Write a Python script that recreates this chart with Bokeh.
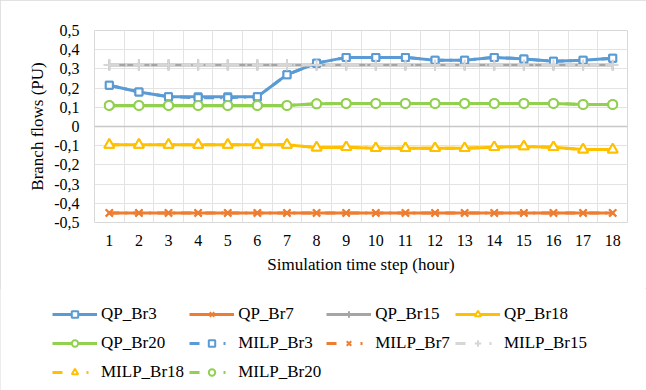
from bokeh.plotting import figure
from bokeh.layouts import column, row
from bokeh.models import (Range1d, FixedTicker, CustomJSTickFormatter, Legend, LegendItem, Span)
from bokeh.embed import file_html
from bokeh.resources import INLINE

steps = [1, 2, 3, 4, 5, 6, 7, 8, 9, 10, 11, 12, 13, 14, 15, 16, 17, 18]
step_labels = ["1", "2", "3", "4", "5", "6", "7", "8", "9", "10", "11", "12", "13", "14", "15", "16", "17", "18"]
y_ticks = [-0.5, -0.4, -0.3, -0.2, -0.1, 0.0, 0.1, 0.2, 0.3, 0.4, 0.5]

qp_br3 = [0.215, 0.18, 0.155, 0.155, 0.155, 0.155, 0.27, 0.33, 0.36, 0.36, 0.36, 0.345, 0.345, 0.36, 0.352, 0.34, 0.345, 0.355]
qp_br7 = [-0.45, -0.45, -0.45, -0.45, -0.45, -0.45, -0.45, -0.45, -0.45, -0.45, -0.45, -0.45, -0.45, -0.45, -0.45, -0.45, -0.45, -0.45]
qp_br15 = [0.32, 0.32, 0.32, 0.32, 0.32, 0.32, 0.32, 0.32, 0.32, 0.32, 0.32, 0.32, 0.32, 0.32, 0.32, 0.32, 0.32, 0.32]
qp_br18 = [-0.095, -0.095, -0.095, -0.095, -0.095, -0.095, -0.095, -0.11, -0.108, -0.113, -0.113, -0.113, -0.113, -0.108, -0.104, -0.108, -0.12, -0.12]
qp_br20 = [0.11, 0.11, 0.11, 0.11, 0.11, 0.11, 0.11, 0.118, 0.12, 0.12, 0.12, 0.12, 0.12, 0.12, 0.12, 0.12, 0.115, 0.115]

milp_br3 = [0.215, 0.18, 0.155, 0.15, 0.15, 0.155, 0.27, 0.33, 0.36, 0.36, 0.36, 0.345, 0.345, 0.36, 0.352, 0.34, 0.345, 0.355]
milp_br7 = [-0.45, -0.45, -0.45, -0.45, -0.45, -0.45, -0.45, -0.45, -0.45, -0.45, -0.45, -0.45, -0.45, -0.45, -0.45, -0.45, -0.45, -0.45]
milp_br15 = [0.32, 0.32, 0.32, 0.32, 0.32, 0.32, 0.32, 0.32, 0.32, 0.32, 0.32, 0.32, 0.32, 0.32, 0.32, 0.32, 0.32, 0.32]
milp_br18 = [-0.095, -0.095, -0.095, -0.095, -0.095, -0.095, -0.095, -0.11, -0.108, -0.113, -0.113, -0.113, -0.113, -0.108, -0.104, -0.108, -0.12, -0.12]
milp_br20 = [0.11, 0.11, 0.11, 0.11, 0.11, 0.11, 0.11, 0.118, 0.12, 0.12, 0.12, 0.12, 0.12, 0.12, 0.12, 0.12, 0.115, 0.115]

FONT = "Liberation Serif"

p = figure(width=646, height=288, output_backend="svg", toolbar_location=None,
           x_range=Range1d(0.5, 18.5), y_range=Range1d(-0.5, 0.5),
           min_border_left=94, min_border_right=19, min_border_top=30, min_border_bottom=66)
p.background_fill_color = "white"
p.border_fill_color = "white"
p.outline_line_color = "#d9d9d9"

# axes
p.xaxis.ticker = FixedTicker(ticks=steps)
p.xaxis.major_label_overrides = {s: l for s, l in zip(steps, step_labels)}
p.yaxis.ticker = FixedTicker(ticks=y_ticks)
p.yaxis.formatter = CustomJSTickFormatter(code="""
    if (Math.abs(tick) < 1e-9) return '0';
    return tick.toFixed(1).replace('.', ',');
""")
for ax in (p.xaxis[0], p.yaxis[0]):
    ax.axis_line_color = None
    ax.major_tick_line_color = None
    ax.minor_tick_line_color = None
    ax.major_tick_out = 0
    ax.major_label_text_font = FONT
    ax.major_label_text_font_size = "16px"
    ax.major_label_text_color = "black"
    ax.axis_label_text_font = FONT
    ax.axis_label_text_font_size = "17px"
    ax.axis_label_text_font_style = "normal"
    ax.axis_label_text_color = "black"
p.xaxis.major_label_standoff = 12
p.xaxis.axis_label = "Simulation time step (hour)"
p.xaxis.axis_label_standoff = 6
p.yaxis.major_label_standoff = 15
p.yaxis.axis_label = "Branch flows (PU)"
p.yaxis.axis_label_standoff = 4

# grid
p.xgrid.ticker = FixedTicker(ticks=[0.5 + i for i in range(19)])
p.xgrid.grid_line_color = "#e3e3e3"
p.xgrid.grid_line_width = 1
p.ygrid.ticker = FixedTicker(ticks=y_ticks)
p.ygrid.grid_line_color = "#e3e3e3"
p.ygrid.grid_line_width = 1
p.add_layout(Span(location=0, dimension="width", line_color="#c8c8c8", line_width=1.3))

BLUE = "#5B9BD5"
ORANGE = "#ED7D31"
GRAY = "#A5A5A5"
LGRAY = "#D6D6D6"
YELLOW = "#FFC000"
GREEN = "#92D050"
DASH = "10 6 2 6"
LDASH = "10 24 2 20"

series = [
    ("QP_Br3", qp_br3, BLUE, "square", 7, 5, "solid", "solid"),
    ("QP_Br7", qp_br7, ORANGE, "x", 10, 8, "solid", "solid"),
    ("QP_Br15", qp_br15, GRAY, "cross", 11, 9, "solid", "solid"),
    ("QP_Br18", qp_br18, YELLOW, "triangle", 10, 8, "solid", "solid"),
    ("QP_Br20", qp_br20, GREEN, "circle", 9, 6, "solid", "solid"),
    ("MILP_Br3", milp_br3, BLUE, "square", 7, 5, DASH, LDASH),
    ("MILP_Br7", milp_br7, ORANGE, "x", 10, 8, DASH, LDASH),
    ("MILP_Br15", milp_br15, LGRAY, "cross", 11, 9, DASH, LDASH),
    ("MILP_Br18", milp_br18, YELLOW, "triangle", 10, 8, DASH, LDASH),
    ("MILP_Br20", milp_br20, GREEN, "circle", 9, 6, DASH, LDASH),
]

# legend-only figure below the chart (its renderers carry the same series, hidden)
pl = figure(width=646, height=102, output_backend="svg", toolbar_location=None,
            x_range=Range1d(100, 101), y_range=Range1d(100, 101),
            x_axis_location=None, y_axis_location=None,
            min_border_left=0, min_border_right=0, min_border_top=0, min_border_bottom=0)
pl.grid.visible = False
pl.outline_line_color = None
pl.background_fill_color = "white"
pl.border_fill_color = "white"

items = []
for name, ys, color, marker, size, lsize, dash, ldash in series:
    p.line(steps, ys, line_color=color, line_width=3, line_dash=dash)
    p.scatter(steps, ys, marker=marker, size=size, line_color=color,
              fill_color="white", line_width=2)
    lr = pl.line(steps, ys, line_color=color, line_width=3, line_dash=ldash, visible=False)
    sr = pl.scatter(steps, ys, marker=marker, size=lsize, line_color=color,
                    fill_color="white", line_width=2, visible=False)
    items.append(LegendItem(label=name, renderers=[lr, sr]))

legend = Legend(items=items, location=(52, 6), orientation="horizontal", ncols=4,
                glyph_width=45, glyph_height=16, label_standoff=4, spacing=5,
                padding=0, margin=0, border_line_color=None, background_fill_alpha=0,
                label_text_font=FONT, label_text_font_size="17px", label_text_color="black",
                label_height=24)
pl.add_layout(legend, "center")

layout = column(p, row(pl, spacing=0), spacing=0,
                styles={"outline": "1px solid #d9d9d9", "outline-offset": "-1px"})

open("out.html", "w").write(file_html(layout, INLINE))
